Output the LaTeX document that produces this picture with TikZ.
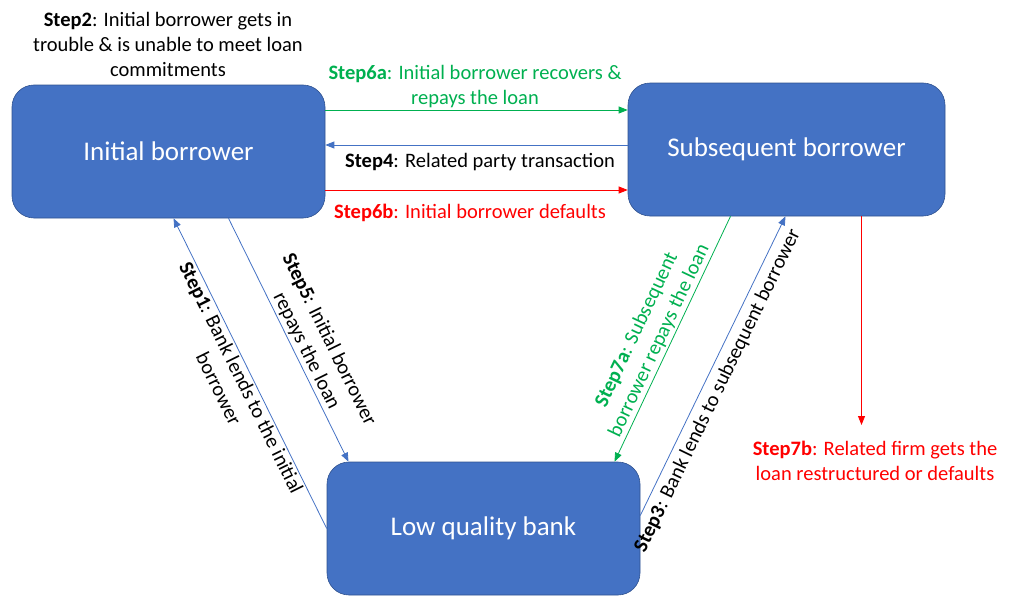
\documentclass[tikz,border=0pt]{standalone}
\usepackage{fontspec}
\setmainfont{Carlito}
\usepackage{xcolor}
\usetikzlibrary{arrows.meta,positioning}
\definecolor{boxblue}{HTML}{4472C4}
\definecolor{boxedge}{HTML}{2F528F}
\definecolor{stepgreen}{HTML}{00B050}
\definecolor{stepred}{HTML}{FF0000}
\begin{document}
\begin{tikzpicture}[x=1pt,y=-1pt,
    party/.style={draw=boxedge, line width=0.6pt, fill=boxblue, rounded corners=22pt,
        minimum width=313pt, minimum height=133pt, text=white, font=\fontsize{27}{32}\selectfont},
    flow/.style={line width=0.8pt, -{Triangle[length=9pt,width=7pt]}},
    note/.style={font=\fontsize{20.5}{25}\selectfont, align=center, inner sep=2pt, text=black}]
\useasboundingbox (0,0) rectangle (1010,597);
% Parties
\node[party] (ib) at (168.5,151.5) {Initial borrower};
\node[party, minimum width=317pt] (sb) at (786.5,149.5) {Subsequent borrower};
\node[party] (bank) at (483.5,528.5) {Low quality bank};
% Step 2 above the initial borrower
\node[note] (s2) at (168,44) {\textbf{Step2}: Initial borrower gets in\\trouble \& is unable to meet loan\\commitments};
% Horizontal flows between borrowers
\draw[flow, stepgreen] (ib.east |- 0,110) -- (sb.west |- 0,110);
\node[note, text=stepgreen] (s6a) at (475,87) {\textbf{Step6a}: Initial borrower recovers \&\\repays the loan};
\draw[flow, boxblue] (sb.west |- 0,145) -- (ib.east |- 0,145);
\node[note] (s4) at (480,162) {\textbf{Step4}: Related party transaction};
\draw[flow, stepred] (ib.east |- 0,190) -- (sb.west |- 0,190);
\node[note, text=stepred] (s6b) at (470,213) {\textbf{Step6b}: Initial borrower defaults};
% Flows with the bank
\draw[flow, boxblue] (bank.west) -- ([xshift=5pt]ib.south)
    node[note, sloped, pos=0.5, below] (s1) {\textbf{Step1}: Bank lends to the initial\\borrower};
\draw[flow, boxblue] ([xshift=60pt]ib.south) -- ([xshift=-135pt]bank.north)
    node[note, sloped, pos=0.565, above] (s5) {\textbf{Step5}: Initial borrower\\repays the loan};
\draw[flow, stepgreen] ([xshift=-56pt]sb.south) -- ([xshift=131pt]bank.north)
    node[note, sloped, pos=0.526, above, text=stepgreen] (s7a) {\textbf{Step7a}: Subsequent\\borrower repays the loan};
\draw[flow, boxblue] ([yshift=13pt]bank.east) -- ([xshift=-1pt]sb.south)
    node[note, sloped, pos=0.44, below, inner sep=6pt] (s3) {\textbf{Step3}: Bank lends to subsequent borrower};
% Step 7b
\coordinate (s7end) at (861.5,425);
\draw[flow, stepred] ([xshift=75pt]sb.south) -- (s7end);
\node[note, text=stepred] (s7b) at (875,461) {\textbf{Step7b}: Related firm gets the\\loan restructured or defaults};
\end{tikzpicture}
\end{document}
